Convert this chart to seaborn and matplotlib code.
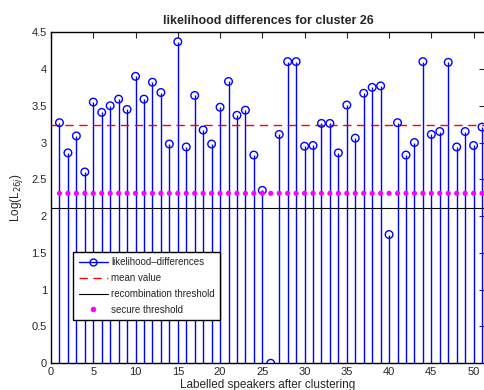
import matplotlib
matplotlib.use("Agg")
import matplotlib.pyplot as plt
from matplotlib.lines import Line2D
import seaborn as sns
import pandas as pd

speakers = list(range(1, 52))
likelihood_diff = [3.27, 2.86, 3.09, 2.60, 3.55, 3.41, 3.50, 3.59, 3.45, 3.90,
                   3.59, 3.82, 3.68, 2.98, 4.37, 2.94, 3.64, 3.17, 2.98, 3.48,
                   3.83, 3.37, 3.44, 2.83, 2.35, 0.00, 3.11, 4.10, 4.10, 2.95,
                   2.96, 3.26, 3.26, 2.86, 3.51, 3.06, 3.67, 3.75, 3.77, 1.75,
                   3.27, 2.83, 3.00, 4.10, 3.11, 3.15, 4.09, 2.94, 3.15, 2.96,
                   3.21]
mean_value = 3.245
recombination_threshold = 2.11
secure_threshold = 2.31

xticks = [0, 5, 10, 15, 20, 25, 30, 35, 40, 45, 50]
yticks = [0, 0.5, 1, 1.5, 2, 2.5, 3, 3.5, 4, 4.5]
ytick_labels = ["0", "0.5", "1", "1.5", "2", "2.5", "3", "3.5", "4", "4.5"]

sns.set_style("white")
plt.rcParams["font.family"] = ["Liberation Sans", "DejaVu Sans"]

df = pd.DataFrame({"speaker": speakers, "diff": likelihood_diff,
                   "secure": [secure_threshold] * len(speakers)})

fig = plt.figure(figsize=(4.85, 3.9), dpi=100)
ax = fig.add_axes([0.1052, 0.0685, 0.8948, 0.849])

ax.vlines(df["speaker"], 0, df["diff"], color="#0000ff", linewidth=1.0, zorder=2)
sns.scatterplot(data=df, x="speaker", y="diff", ax=ax, marker="o", s=30,
                facecolor="none", edgecolor="#0000ff", linewidth=1.0, zorder=4,
                legend=False)
ax.axhline(mean_value, color="#ff0000", linestyle=(0, (6, 4)), linewidth=1.0, zorder=3)
ax.axhline(recombination_threshold, color="black", linewidth=0.8, zorder=3)
sns.scatterplot(data=df, x="speaker", y="secure", ax=ax, marker="o", s=14,
                color="#ff00ff", edgecolor="none", zorder=5, legend=False)

ax.set_xlim(0, 51.35)
ax.set_ylim(0, 4.5)
ax.set_xticks(xticks)
ax.set_yticks(yticks)
ax.set_yticklabels(ytick_labels)
ax.tick_params(direction="in", top=True, right=True, labelsize=8, length=4,
               width=0.8, pad=3)
for s in ax.spines.values():
    s.set_linewidth(1.0)
    s.set_color("black")

ax.set_title("likelihood differences for cluster 26", fontsize=9,
             fontweight="bold", pad=6)
ax.set_xlabel("Labelled speakers after clustering", fontsize=8.5, labelpad=1)
ax.set_ylabel("Log(L$_{26j}$)", fontsize=8.5, labelpad=5)

handles = [
    Line2D([], [], color="#0000ff", linewidth=1.0, marker="o",
           markerfacecolor="none", markeredgecolor="#0000ff", markersize=5,
           markevery=[1]),
    Line2D([], [], color="#ff0000", linestyle=(0, (6, 4)), linewidth=1.0),
    Line2D([], [], color="black", linewidth=0.8),
    Line2D([], [], color="#ff00ff", linestyle="none", marker="o", markersize=4,
           markeredgecolor="none"),
]
labels = ["likelihood\u2013differences", "mean value", "recombination threshold",
          "secure threshold"]
leg = ax.legend(handles, labels, loc="lower left", bbox_to_anchor=(0.051, 0.13),
                borderaxespad=0, fontsize=7, frameon=True, fancybox=False,
                framealpha=1, edgecolor="black", handlelength=3.0, borderpad=0.55,
                labelspacing=0.6, handletextpad=0.35)
leg.get_frame().set_linewidth(1.0)

fig.savefig("out.png", dpi=100)
